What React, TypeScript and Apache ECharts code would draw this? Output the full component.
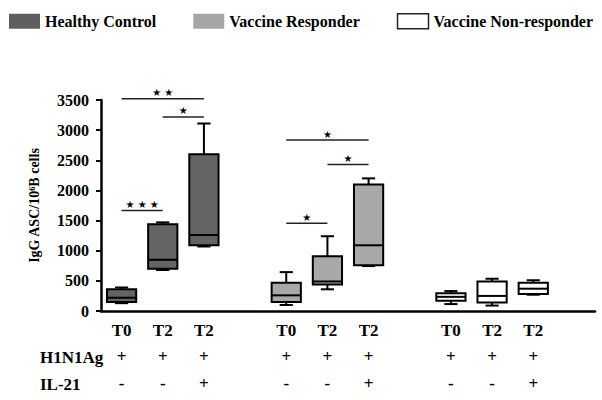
import React, { useEffect, useRef } from 'react';
import * as echarts from 'echarts';

// ---- data ----
const categories = ['T0', 'T2', 'T2', '', 'T0', 'T2', 'T2', '', 'T0', 'T2', 'T2', ''];
const h1n1Ag = ['+', '+', '+', '', '+', '+', '+', '', '+', '+', '+', ''];
const il21 = ['-', '-', '+', '', '-', '-', '+', '', '-', '-', '+', ''];
const rowTitles = ['H1N1Ag', 'IL-21'];

const yMin = 0;
const yMax = 3500;
const yInterval = 500;

const seriesNames = ['Healthy Control', 'Vaccine Responder', 'Vaccine Non-responder'];
// [min, Q1, median, Q3, max]
const healthyControl = [
  [130, 150, 220, 360, 390],
  [680, 700, 850, 1440, 1470],
  [1070, 1090, 1260, 2600, 3110],
];
const vaccineResponder = [
  [100, 150, 260, 470, 645],
  [360, 440, 490, 910, 1240],
  [745, 760, 1090, 2100, 2200],
];
const vaccineNonResponder = [
  [115, 170, 235, 295, 330],
  [90, 140, 250, 490, 535],
  [270, 280, 370, 470, 510],
];
const groupStart = [0, 4, 8];

// significance bars
const sigFrom = [0, 1, 0, 4, 5, 4];
const sigTo = [1, 2, 2, 6, 6, 5];
const sigY = [1665, 3220, 3520, 2835, 2430, 1455];
const sigLabel = ['★ ★ ★', '★', '★ ★', '★', '★', '★'];

const FONT = '"Liberation Serif", "Times New Roman", serif';

function boxSeries(name: string, boxes: number[][], gi: number, fill: string) {
  return {
    type: 'custom',
    name,
    data: boxes.map((b, i) => [groupStart[gi] + i, ...b]),
    encode: { x: 0, y: [1, 2, 3, 4, 5] },
    itemStyle: { color: fill },
    renderItem: (params: any, api: any) => {
      const x = api.value(0);
      const pts = [1, 2, 3, 4, 5].map((k) => api.coord([x, api.value(k)]));
      const cx = pts[0][0];
      const ys = pts.map((p: number[]) => p[1]);
      const band = api.size([1, 0])[0];
      const hw = band * 0.355;
      const cap = band * 0.16;
      const ls = { stroke: '#000', lineWidth: 2 };
      return {
        type: 'group',
        children: [
          { type: 'line', shape: { x1: cx, y1: ys[4], x2: cx, y2: ys[3] }, style: ls },
          { type: 'line', shape: { x1: cx - cap, y1: ys[4], x2: cx + cap, y2: ys[4] }, style: ls },
          { type: 'line', shape: { x1: cx, y1: ys[0], x2: cx, y2: ys[1] }, style: ls },
          { type: 'line', shape: { x1: cx - cap, y1: ys[0], x2: cx + cap, y2: ys[0] }, style: ls },
          {
            type: 'rect',
            shape: { x: cx - hw, y: ys[3], width: 2 * hw, height: ys[1] - ys[3] },
            style: { fill, stroke: '#000', lineWidth: 2 },
          },
          { type: 'line', shape: { x1: cx - hw, y1: ys[2], x2: cx + hw, y2: ys[2] }, style: ls },
        ],
      };
    },
  };
}

export default function App() {
  const ref = useRef<HTMLDivElement>(null);
  useEffect(() => {
    if (!ref.current) return;
    const chart = echarts.init(ref.current, null, { renderer: 'svg' });
    const option: any = {
      animation: false,
      backgroundColor: '#fff',
      legend: {
        left: 9,
        top: 13,
        width: 593,
        padding: 0,
        itemWidth: 31,
        itemHeight: 15,
        itemGap: 37,
        icon: 'rect',
        selectedMode: false,
        textStyle: { fontFamily: FONT, fontWeight: 'bold', fontSize: 16, color: '#000' },
        data: [
          { name: seriesNames[0], itemStyle: { color: '#5f5f5f', borderWidth: 0 } },
          { name: seriesNames[1], itemStyle: { color: '#a6a6a6', borderWidth: 0 } },
          { name: seriesNames[2], itemStyle: { color: '#fff', borderColor: '#222', borderWidth: 1.5 } },
        ],
      },
      grid: { left: 101, right: 7, top: 100, bottom: 89 },
      xAxis: {
        type: 'category',
        data: categories,
        boundaryGap: true,
        axisLine: { lineStyle: { color: '#000', width: 2.5 } },
        axisTick: {
          alignWithLabel: true,
          length: 4,
          lineStyle: { color: '#000', width: 2 },
          interval: (_i: number, v: string) => v !== '',
        },
        axisLabel: {
          interval: 0,
          margin: 6,
          formatter: (v: string, i: number) =>
            v ? `{a|${v}}\n{a|${h1n1Ag[i]}}\n{a|${il21[i]}}` : '',
          rich: {
            a: { fontFamily: FONT, fontWeight: 'bold', fontSize: 17, lineHeight: 26.5, color: '#000' },
          },
        },
        splitLine: { show: false },
      },
      yAxis: {
        type: 'value',
        min: yMin,
        max: yMax,
        interval: yInterval,
        name: 'IgG ASC/10⁶B cells',
        nameLocation: 'middle',
        nameGap: 60,
        nameRotate: 90,
        nameTextStyle: { fontFamily: FONT, fontWeight: 'bold', fontSize: 14, color: '#000' },
        axisLine: { show: true, lineStyle: { color: '#000', width: 2.5 } },
        axisTick: { show: true, length: 5, lineStyle: { color: '#000', width: 2 } },
        axisLabel: {
          fontFamily: FONT,
          fontWeight: 'bold',
          fontSize: 16,
          color: '#000',
          margin: 12,
          formatter: (v: number) => String(v),
        },
        splitLine: { show: false },
      },
      graphic: rowTitles.map((t, i) => ({
        type: 'text',
        x: 40,
        y: 357 + i * 27,
        style: { text: t, fontFamily: FONT, fontWeight: 'bold', fontSize: 17, fill: '#000', verticalAlign: 'middle' },
      })),
      series: [
        boxSeries(seriesNames[0], healthyControl, 0, '#646464'),
        boxSeries(seriesNames[1], vaccineResponder, 1, '#a8a8a8'),
        boxSeries(seriesNames[2], vaccineNonResponder, 2, '#ffffff'),
        {
          type: 'custom',
          name: 'significance',
          data: sigFrom.map((f, i) => [f, sigY[i], sigTo[i]]),
          encode: { x: [0, 2], y: 1 },
          clip: false,
          renderItem: (params: any, api: any) => {
            const i = params.dataIndex;
            const p1 = api.coord([sigFrom[i], sigY[i]]);
            const p2 = api.coord([sigTo[i], sigY[i]]);
            return {
              type: 'group',
              children: [
                { type: 'line', shape: { x1: p1[0], y1: p1[1], x2: p2[0], y2: p2[1] }, style: { stroke: '#222', lineWidth: 1.5 } },
                {
                  type: 'text',
                  x: (p1[0] + p2[0]) / 2,
                  y: p1[1] - 1,
                  style: { text: sigLabel[i], fontSize: 10, fill: '#000', align: 'center', verticalAlign: 'bottom', fontFamily: '"DejaVu Sans", sans-serif' },
                },
              ],
            };
          },
        },
      ],
    };
    chart.setOption(option);
    return () => chart.dispose();
  }, []);
  return <div ref={ref} style={{ position: 'fixed', left: 0, top: 0, width: 602, height: 400 }} />;
}
